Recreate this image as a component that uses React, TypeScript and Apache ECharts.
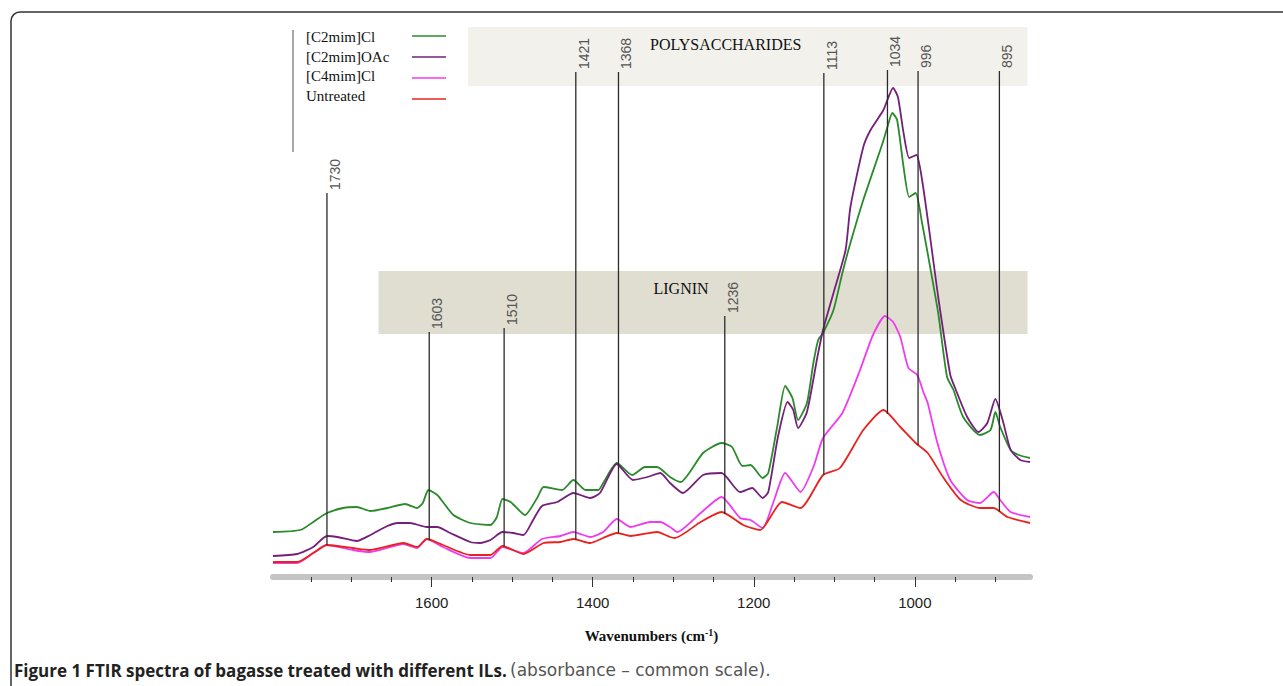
import React, { useEffect, useRef } from 'react';
import * as echarts from 'echarts';

// ---------- data ----------
const seriesNames = ['[C2mim]Cl', '[C2mim]OAc', '[C4mim]Cl', 'Untreated'];
const seriesColors = ['#2b8a2b', '#74207a', '#f03cf0', '#e8231f'];

const c2ClWn = [1797, 1763, 1747, 1730, 1710, 1693, 1676, 1655, 1633, 1618, 1611, 1604, 1593, 1586, 1573, 1552, 1527, 1519, 1512, 1502, 1484, 1469, 1461, 1438, 1424, 1409, 1393, 1387, 1370, 1351, 1335, 1320, 1304, 1291, 1263, 1240, 1227, 1214, 1204, 1189, 1182, 1171, 1161, 1152, 1145, 1134, 1126, 1120, 1114, 1101, 1090, 1080, 1064, 1040, 1034, 1028, 1022, 1014, 1007, 999, 991, 981, 971, 960, 952, 940, 919, 906, 900, 894, 881, 871, 857];
const c2ClVal = [0.090, 0.094, 0.110, 0.128, 0.138, 0.140, 0.132, 0.138, 0.146, 0.138, 0.148, 0.174, 0.164, 0.150, 0.124, 0.108, 0.104, 0.120, 0.156, 0.150, 0.124, 0.158, 0.180, 0.174, 0.194, 0.174, 0.174, 0.188, 0.228, 0.204, 0.220, 0.220, 0.200, 0.190, 0.248, 0.268, 0.260, 0.222, 0.224, 0.198, 0.208, 0.300, 0.382, 0.358, 0.314, 0.348, 0.428, 0.474, 0.488, 0.534, 0.608, 0.668, 0.754, 0.868, 0.900, 0.928, 0.914, 0.820, 0.760, 0.768, 0.708, 0.620, 0.528, 0.400, 0.374, 0.320, 0.284, 0.294, 0.330, 0.300, 0.254, 0.244, 0.238];

const c2OAcWn = [1797, 1767, 1747, 1730, 1717, 1693, 1676, 1655, 1642, 1627, 1606, 1593, 1577, 1552, 1540, 1527, 1512, 1499, 1486, 1474, 1463, 1444, 1424, 1403, 1391, 1370, 1350, 1332, 1316, 1304, 1288, 1263, 1240, 1217, 1202, 1189, 1182, 1170, 1158, 1151, 1145, 1134, 1121, 1114, 1101, 1086, 1080, 1064, 1055, 1039, 1027, 1021, 1014, 1007, 998, 991, 981, 971, 956, 950, 935, 921, 910, 900, 891, 881, 869, 857];
const c2OAcVal = [0.042, 0.046, 0.060, 0.082, 0.080, 0.072, 0.084, 0.102, 0.108, 0.108, 0.100, 0.100, 0.088, 0.070, 0.068, 0.074, 0.090, 0.088, 0.084, 0.114, 0.142, 0.150, 0.168, 0.158, 0.168, 0.226, 0.194, 0.200, 0.208, 0.188, 0.168, 0.204, 0.208, 0.170, 0.178, 0.158, 0.170, 0.280, 0.350, 0.334, 0.298, 0.330, 0.440, 0.494, 0.568, 0.654, 0.740, 0.860, 0.894, 0.934, 0.978, 0.960, 0.888, 0.838, 0.844, 0.794, 0.680, 0.560, 0.404, 0.378, 0.320, 0.290, 0.308, 0.356, 0.314, 0.254, 0.234, 0.230];

const c4ClWn = [1797, 1767, 1747, 1730, 1698, 1676, 1635, 1618, 1606, 1586, 1552, 1527, 1512, 1486, 1463, 1440, 1424, 1403, 1387, 1370, 1353, 1329, 1316, 1304, 1295, 1266, 1240, 1217, 1204, 1189, 1176, 1161, 1142, 1126, 1114, 1090, 1068, 1052, 1037, 1027, 1018, 1008, 997, 989, 984, 972, 956, 935, 919, 902, 894, 881, 857];
const c4ClVal = [0.028, 0.028, 0.048, 0.064, 0.054, 0.050, 0.066, 0.058, 0.076, 0.060, 0.038, 0.038, 0.060, 0.048, 0.076, 0.082, 0.090, 0.080, 0.090, 0.116, 0.100, 0.110, 0.110, 0.100, 0.090, 0.128, 0.160, 0.118, 0.114, 0.098, 0.148, 0.208, 0.170, 0.220, 0.278, 0.328, 0.414, 0.484, 0.522, 0.510, 0.480, 0.418, 0.404, 0.368, 0.348, 0.268, 0.194, 0.154, 0.148, 0.170, 0.154, 0.130, 0.120];

const untreatedWn = [1797, 1767, 1747, 1730, 1698, 1676, 1635, 1618, 1606, 1586, 1552, 1527, 1512, 1486, 1461, 1440, 1424, 1403, 1387, 1370, 1353, 1320, 1304, 1298, 1266, 1240, 1213, 1192, 1165, 1142, 1114, 1093, 1064, 1039, 1018, 999, 984, 965, 943, 919, 902, 885, 857];
const untreatedVal = [0.030, 0.030, 0.048, 0.064, 0.058, 0.054, 0.068, 0.060, 0.076, 0.064, 0.044, 0.044, 0.062, 0.046, 0.068, 0.070, 0.076, 0.068, 0.078, 0.088, 0.082, 0.090, 0.080, 0.078, 0.110, 0.130, 0.104, 0.094, 0.150, 0.138, 0.204, 0.218, 0.294, 0.334, 0.300, 0.268, 0.248, 0.200, 0.154, 0.138, 0.138, 0.120, 0.108];

const peakWn = [1730, 1603, 1510, 1421, 1368, 1236, 1113, 1034, 996, 895];
const peakLabels = ['1730', '1603', '1510', '1421', '1368', '1236', '1113', '1034', '996', '895'];
const peakTop = [0.768, 0.49, 0.498, 1.01, 1.01, 0.522, 1.008, 1.014, 1.012, 1.012];

const bandNames = ['POLYSACCHARIDES', 'LIGNIN'];
const bandFrom = [1555, 1666];
const bandTo = [860, 860];
const bandLow = [0.982, 0.486];
const bandHigh = [1.1, 0.612];
const bandColors = ['#f2f1ec', '#e0ddd1'];

const xMin = 857;
const xMax = 1797;
const xLabelValues = [1000, 1200, 1400, 1600];
const xMinorValues = [900, 950, 1000, 1050, 1100, 1150, 1200, 1250, 1300, 1350, 1400, 1450, 1500, 1550, 1600, 1650, 1700, 1750];

const captionBold = 'Figure 1 FTIR spectra of bagasse treated with different ILs.';
const captionRegular = '(absorbance – common scale).';

// ---------- helpers ----------
function pairs(wn: number[], val: number[]) {
  return wn.map((w, i) => [w, val[i]]);
}
function interp(wn: number[], val: number[], w: number) {
  for (let i = 0; i < wn.length - 1; i++) {
    const a = wn[i], b = wn[i + 1];
    if ((w <= a && w >= b) || (w >= a && w <= b)) {
      const t = (w - a) / (b - a);
      return val[i] + t * (val[i + 1] - val[i]);
    }
  }
  return val[val.length - 1];
}

export default function App() {
  const ref = useRef<HTMLDivElement>(null);
  useEffect(() => {
    document.body.style.margin = '0';
    const chart = echarts.init(ref.current!, null, { renderer: 'svg' });
    const spectra = [
      pairs(c2ClWn, c2ClVal),
      pairs(c2OAcWn, c2OAcVal),
      pairs(c4ClWn, c4ClVal),
      pairs(untreatedWn, untreatedVal),
    ];
    const serif = '"Liberation Serif", "Times New Roman", serif';
    const sans = '"Liberation Sans", Arial, sans-serif';

    const legendGraphics: any[] = [];
    seriesNames.forEach((n, i) => {
      legendGraphics.push({
        type: 'text',
        x: 306,
        y: 37 + 19.5 * i,
        silent: true,
        style: { text: n, font: '15px ' + serif, fill: '#111', verticalAlign: 'middle', align: 'left' },
      });
      legendGraphics.push({
        type: 'line',
        silent: true,
        shape: { x1: 412, y1: 36 + 21 * i, x2: 446, y2: 36 + 21 * i },
        style: { stroke: seriesColors[i], lineWidth: 1.6 },
      });
    });

    const option: any = {
      animation: false,
      backgroundColor: '#ffffff',
      grid: { left: 273, top: 27, width: 757, height: 550, containLabel: false },
      xAxis: [
        {
          type: 'value',
          min: xMin,
          max: xMax,
          inverse: true,
          position: 'bottom',
          axisLine: { show: true, onZero: false, lineStyle: { color: '#c4c4c4', width: 6 } },
          axisTick: { show: true, customValues: xMinorValues, length: 5, lineStyle: { color: '#333', width: 1 } },
          axisLabel: {
            customValues: xLabelValues,
            margin: 18,
            fontSize: 15,
            color: '#222',
            fontFamily: sans,
            formatter: (v: number) => String(v),
          },
          splitLine: { show: false },
          name: '{t|Wavenumbers (cm}{s|-1}{t|)}',
          nameLocation: 'middle',
          nameGap: 50,
          nameTextStyle: {
            rich: {
              t: { fontFamily: serif, fontWeight: 'bold', fontSize: 15, color: '#111' },
              s: { fontFamily: serif, fontWeight: 'bold', fontSize: 10, color: '#111', padding: [0, 0, 8, 0] },
            },
          },
        },
        {
          type: 'value',
          min: xMin,
          max: xMax,
          inverse: true,
          position: 'bottom',
          axisLine: { show: false, onZero: false },
          axisTick: { show: true, customValues: xLabelValues, length: 10, lineStyle: { color: '#333', width: 1 } },
          axisLabel: { show: false },
          splitLine: { show: false },
        },
      ],
      yAxis: { type: 'value', min: 0, max: 1.1, show: false },
      series: [
        {
          type: 'custom',
          name: 'bands',
          z: 1,
          silent: true,
          data: bandNames.map((n, i) => [bandFrom[i], bandLow[i], bandTo[i], bandHigh[i]]),
          renderItem: (params: any, api: any) => {
            const i = params.dataIndex;
            const p1 = api.coord([api.value(0), api.value(3)]);
            const p2 = api.coord([api.value(2), api.value(1)]);
            return {
              type: 'group',
              children: [
                {
                  type: 'rect',
                  shape: { x: p1[0], y: p1[1], width: p2[0] - p1[0], height: p2[1] - p1[1] },
                  style: { fill: bandColors[i] },
                },
                {
                  type: 'text',
                  x: (p1[0] + p2[0]) / 2 - 22,
                  y: p1[1] + 17,
                  style: { text: bandNames[i], font: '16px ' + serif, fill: '#111', align: 'center', verticalAlign: 'middle' },
                },
              ],
            };
          },
        },
        ...seriesNames.map((n, i) => ({
          type: 'line',
          name: n,
          z: 3,
          silent: true,
          showSymbol: false,
          symbol: 'none',
          smooth: 0.2,
          data: spectra[i],
          lineStyle: { color: seriesColors[i], width: 1.8 },
          itemStyle: { color: seriesColors[i] },
        })),
        {
          type: 'custom',
          name: 'peaks',
          z: 4,
          silent: true,
          data: peakWn.map((w, i) => [w, peakTop[i], interp(untreatedWn, untreatedVal, w)]),
          renderItem: (params: any, api: any) => {
            const i = params.dataIndex;
            const top = api.coord([api.value(0), api.value(1)]);
            const bot = api.coord([api.value(0), api.value(2)]);
            return {
              type: 'group',
              children: [
                {
                  type: 'line',
                  shape: { x1: top[0], y1: top[1], x2: bot[0], y2: bot[1] },
                  style: { stroke: '#2a2a2a', lineWidth: 1.3 },
                },
                {
                  type: 'text',
                  x: top[0] + 1,
                  y: top[1] - 3,
                  rotation: Math.PI / 2,
                  style: { text: peakLabels[i], font: '14px ' + sans, fill: '#555', align: 'left', verticalAlign: 'top' },
                },
              ],
            };
          },
        },
      ],
      graphic: [
        {
          type: 'rect',
          silent: true,
          z: 0,
          shape: { x: 11, y: 12, width: 1300, height: 690, r: 9 },
          style: { fill: 'none', stroke: '#333', lineWidth: 1.5 },
        },
        {
          type: 'line',
          silent: true,
          shape: { x1: 293, y1: 30, x2: 293, y2: 152 },
          style: { stroke: '#8a8a8a', lineWidth: 1.5 },
        },
        ...legendGraphics,
        {
          type: 'text',
          silent: true,
          x: 14,
          y: 670,
          style: {
            text: '{b|' + captionBold + '} {r|' + captionRegular + '}',
            verticalAlign: 'middle',
            align: 'left',
            rich: {
              b: { fontFamily: '"Open Sans", sans-serif', fontWeight: 'bold', fontSize: 17, fill: '#222' },
              r: { fontFamily: '"DejaVu Sans", sans-serif', fontSize: 17, fill: '#555' },
            },
          },
        },
      ],
    };
    chart.setOption(option);
    return () => chart.dispose();
  }, []);
  return <div ref={ref} style={{ width: 1283, height: 686 }} />;
}
